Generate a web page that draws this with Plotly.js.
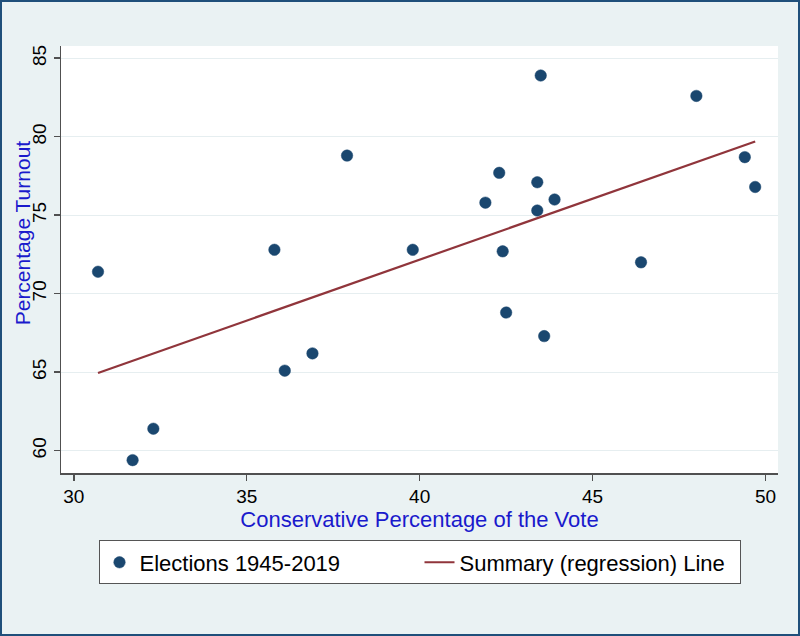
<!DOCTYPE html>
<html>
<head>
<meta charset="utf-8">
<script src="https://cdn.plot.ly/plotly-3.0.1.min.js"></script>
<style>
  html, body { margin: 0; padding: 0; background: #EAF2F3; }
  #wrap { position: relative; width: 800px; height: 636px; }
  #chart { width: 800px; height: 636px; }
  #frame { position: absolute; left: 0; top: 0; width: 796px; height: 632px;
           border: 2px solid #1f4f7a; pointer-events: none; }
</style>
</head>
<body>
<div id="wrap">
  <div id="chart"></div>
  <div id="frame"></div>
</div>
<script>
// Conservative vote share (%) and turnout (%) for each election
var conservativeVote = [30.7, 31.7, 32.3, 35.8, 36.1, 36.9, 37.9, 39.8, 41.9, 42.3, 42.4,
                        42.5, 43.4, 43.4, 43.5, 43.6, 43.9, 46.4, 48.0, 49.4, 49.7];
var turnout          = [71.4, 59.4, 61.4, 72.8, 65.1, 66.2, 78.8, 72.8, 75.8, 77.7, 72.7,
                        68.8, 77.1, 75.3, 83.9, 67.3, 76.0, 72.0, 82.6, 78.7, 76.8];

// Summary (regression) line end points
var lineX = [30.7, 49.7];
var lineY = [64.95, 79.7];

var xTicks = [30, 35, 40, 45, 50];
var yTicks = [60, 65, 70, 75, 80, 85];

var FONT = 'Liberation Sans, Arial, sans-serif';

var traces = [
  {
    type: 'scatter', mode: 'markers',
    x: conservativeVote, y: turnout,
    name: 'Elections 1945-2019',
    marker: { color: '#1a476f', size: 11.5, line: { color: '#1a476f', width: 0.5 } }
  },
  {
    type: 'scatter', mode: 'lines',
    x: lineX, y: lineY,
    name: 'Summary (regression) Line',
    line: { color: '#90353b', width: 2.2 }
  }
];

var layout = {
  width: 800, height: 636,
  paper_bgcolor: '#EAF2F3',
  plot_bgcolor: '#ffffff',
  margin: { l: 61, r: 22, t: 46, b: 163 },
  font: { family: FONT, color: '#000000' },
  showlegend: true,
  legend: {
    orientation: 'h',
    x: 0.5, xanchor: 'center',
    y: -0.158, yanchor: 'top',
    bgcolor: '#ffffff',
    bordercolor: '#555555', borderwidth: 1,
    font: { family: FONT, size: 22, color: '#000000' },
    entrywidth: 275, entrywidthmode: 'pixels',
    traceorder: 'normal'
  },
  xaxis: {
    range: [29.63, 50.36],
    tickvals: xTicks,
    ticktext: xTicks.map(String),
    ticks: 'outside', ticklen: 6, tickwidth: 1.5, tickcolor: '#505050',
    showline: true, linecolor: '#505050', linewidth: 1.5,
    showgrid: false, zeroline: false,
    tickfont: { family: FONT, size: 19, color: '#000000' },
    title: { text: 'Conservative Percentage of the Vote', standoff: 4,
             font: { family: FONT, size: 22, color: '#1a1acc' } }
  },
  yaxis: {
    range: [58.58, 85.78],
    tickvals: yTicks,
    ticktext: yTicks.map(String),
    tickangle: -90,
    ticks: 'outside', ticklen: 6, tickwidth: 1.5, tickcolor: '#505050',
    showline: true, linecolor: '#505050', linewidth: 1.5,
    showgrid: true, gridcolor: '#e6eef0', gridwidth: 1,
    zeroline: false,
    tickfont: { family: FONT, size: 19, color: '#000000' }
  },
  annotations: [
    {
      text: 'Percentage Turnout',
      xref: 'paper', yref: 'paper',
      x: -0.054, y: 0.562,
      xanchor: 'center', yanchor: 'middle',
      textangle: -90, showarrow: false,
      font: { family: FONT, size: 21, color: '#1a1acc' }
    }
  ]
};

Plotly.newPlot('chart', traces, layout, { displayModeBar: false, staticPlot: true });
</script>
</body>
</html>
